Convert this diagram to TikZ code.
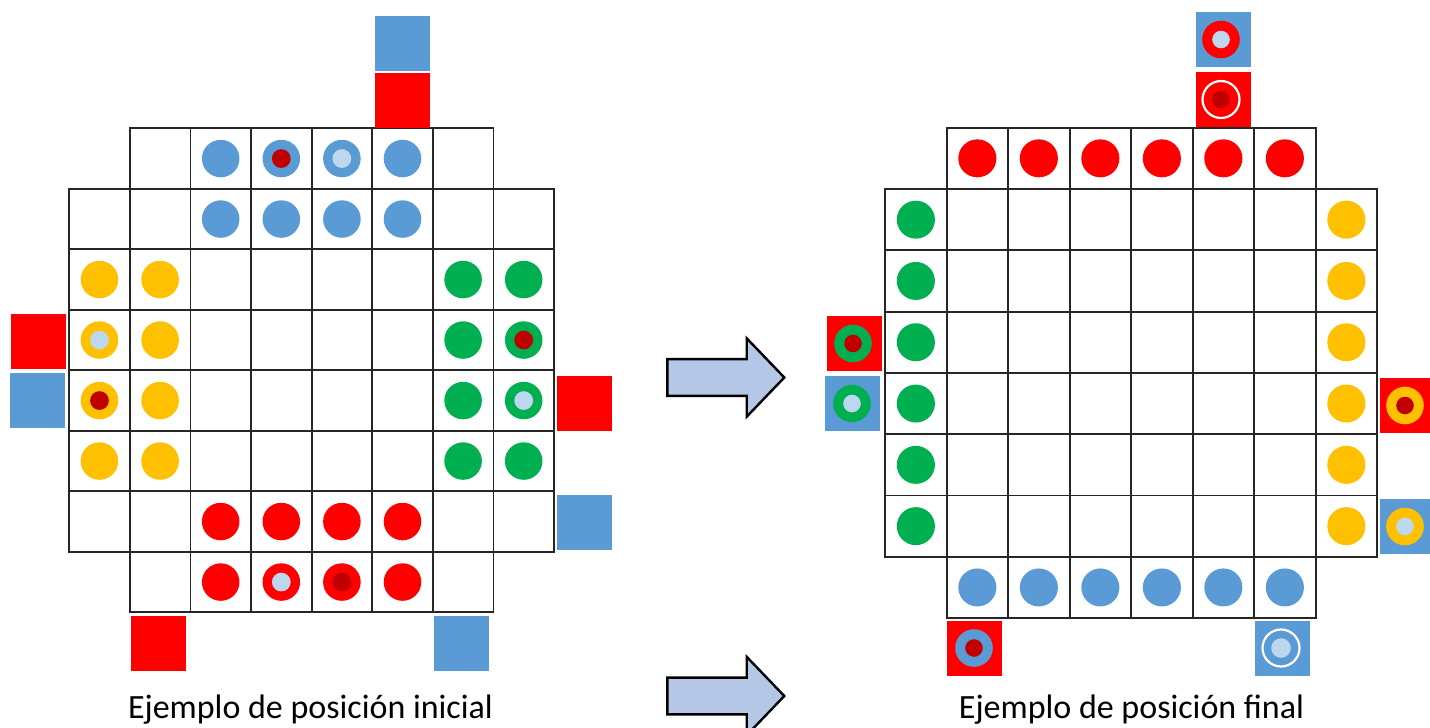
\documentclass[tikz,border=0pt]{standalone}
\usepackage{fontspec}
\setmainfont{Carlito}
\usepackage{xcolor}
\definecolor{stoneblue}{HTML}{5B9BD5}
\definecolor{stonered}{HTML}{FF0000}
\definecolor{stoneyellow}{HTML}{FFC000}
\definecolor{stonegreen}{HTML}{00B050}
\definecolor{corered}{HTML}{C00000}
\definecolor{coreblue}{HTML}{BDD7EE}
\definecolor{arrowfill}{HTML}{B4C7E7}
\usepackage{tikz}

% board cell (column, row) -> stone / centre mark
\newcommand{\stone}[3]{\fill[#1] ({#2+.5},{#3+.5}) circle[radius=.31];}
\newcommand{\stonedot}[3]{\fill[#1] ({#2+.5},{#3+.5}) circle[radius=.155];}
% home square outside a board, and the stone parked on it
\newcommand{\homesq}[3]{\fill[#1] (#2,#3) rectangle ++(55,55);}
\newcommand{\homestone}[4]{\fill[#1] (#3,#4) circle[radius=18.8]; \fill[#2] (#3,#4) circle[radius=8.8];}

\begin{document}
\begin{tikzpicture}[x=0.5pt,y=-0.5pt,every node/.style={font=\fontsize{17}{20}\selectfont},
  gridline/.style={draw=black!85,line width=0.9pt},
  bigarrow/.style={draw=black,fill=arrowfill,line width=1.2pt,line join=miter}]
\useasboundingbox (0,0) rectangle (1430,728);
\clip (0,0) rectangle (1430,728);

% initial position
\begin{scope}[shift={(69.2,128.3)},x=30.3pt,y=-30.25pt]
\draw[gridline] (1,0) rectangle (7,8) (0,1) rectangle (8,7);
\foreach \i in {2,...,6} \draw[gridline] (\i,0) -- (\i,8) (0,\i) -- (8,\i);
\foreach \c in {2,...,5} {\stone{stoneblue}{\c}{0} \stone{stoneblue}{\c}{1} \stone{stonered}{\c}{6} \stone{stonered}{\c}{7}}
\foreach \r in {2,...,5} {\stone{stoneyellow}{0}{\r} \stone{stoneyellow}{1}{\r} \stone{stonegreen}{6}{\r} \stone{stonegreen}{7}{\r}}
\stonedot{corered}{3}{0} \stonedot{coreblue}{4}{0}
\stonedot{coreblue}{0}{3} \stonedot{corered}{0}{4}
\stonedot{corered}{7}{3} \stonedot{coreblue}{7}{4}
\stonedot{coreblue}{3}{7} \stonedot{corered}{4}{7}
\end{scope}
\homesq{stoneblue}{375}{15.5} \homesq{stonered}{375}{73}
\homesq{stonered}{11}{314} \homesq{stoneblue}{10}{373}
\homesq{stonered}{557}{376} \homesq{stoneblue}{557}{495}
\homesq{stonered}{130.5}{615.5} \homesq{stoneblue}{433.5}{615.5}

% final position
\begin{scope}[shift={(885.1,127.7)},x=30.75pt,y=-30.65pt]
\draw[gridline] (1,0) rectangle (7,8) (0,1) rectangle (8,7);
\foreach \i in {2,...,6} \draw[gridline] (\i,0) -- (\i,8) (0,\i) -- (8,\i);
\foreach \c in {1,...,6} {\stone{stonered}{\c}{0} \stone{stoneblue}{\c}{7}}
\foreach \r in {1,...,6} {\stone{stonegreen}{0}{\r} \stone{stoneyellow}{7}{\r}}
\end{scope}
\homesq{stoneblue}{1196}{12} \homestone{stonered}{coreblue}{1221}{39.5}
\homesq{stonered}{1196}{72} \fill[corered] (1221,99.5) circle[radius=8.8];
\draw[white,line width=1.1pt] (1221,99.5) circle[radius=18.5];
\homesq{stonered}{827}{316} \homestone{stonegreen}{corered}{853}{343.5}
\homesq{stoneblue}{825}{376} \homestone{stonegreen}{coreblue}{852}{403.5}
\homesq{stonered}{1380}{378} \homestone{stoneyellow}{corered}{1405}{405.5}
\homesq{stoneblue}{1380}{499} \homestone{stoneyellow}{coreblue}{1405}{526.5}
\homesq{stonered}{947}{620.5} \homestone{stoneblue}{corered}{974}{648}
\homesq{stoneblue}{1255}{620.5} \fill[coreblue] (1281,648) circle[radius=9.8];
\draw[white,line width=1.1pt] (1281,648) circle[radius=18.5];

% arrows between the boards
\foreach \ay in {377.5,696}
  \draw[bigarrow] (667.3,{\ay-18.4}) -- (746.7,{\ay-18.4}) -- (746.7,{\ay-39.2}) -- (784.3,\ay)
    -- (746.7,{\ay+39.2}) -- (746.7,{\ay+18.4}) -- (667.3,{\ay+18.4}) -- cycle;

\node[anchor=base] (inicial) at (310.5,718) {Ejemplo de posición inicial};
\node[anchor=base] (final) at (1131.5,718) {Ejemplo de posición final};
\end{tikzpicture}
\end{document}
